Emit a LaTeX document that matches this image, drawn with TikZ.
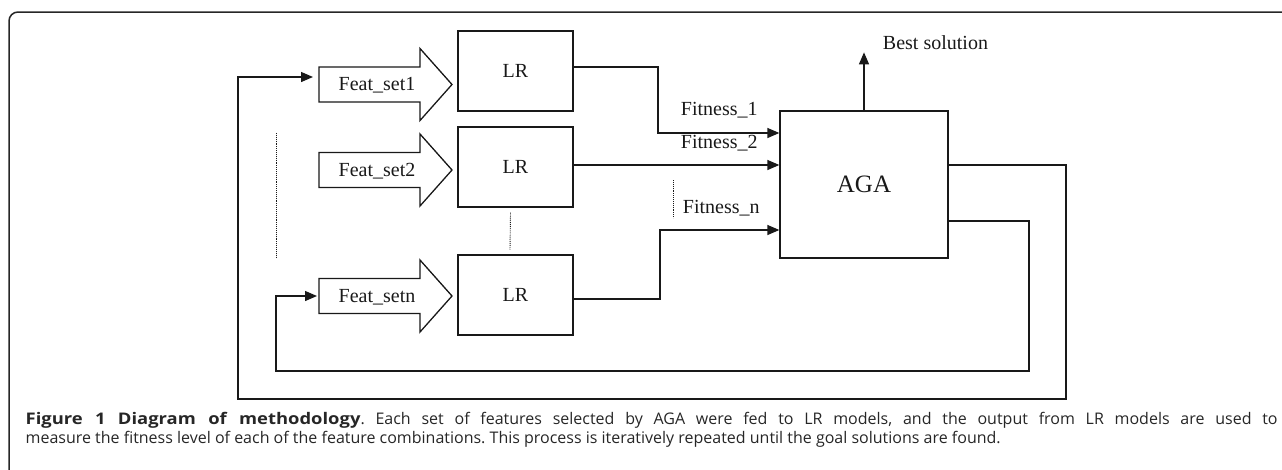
\documentclass[tikz,border=0pt]{standalone}
\usepackage{fontspec}
\setmainfont{Liberation Serif}
\newfontfamily\capfont{Open Sans}[BoldFeatures={FakeStretch=1.15}]
\usetikzlibrary{arrows.meta,positioning}

\tikzset{
	box/.style={draw, line width=1.3pt, minimum width=115pt, minimum height=80pt, font=\fontsize{20}{23}\selectfont},
	lbl/.style={font=\fontsize{20}{23}\selectfont},
	frame/.style={line width=1.5pt, black!85, rounded corners=9pt}
}

\begin{document}
\begin{tikzpicture}[x=1pt, y=-1pt, line width=1.3pt, color=black!90, >={Triangle[length=12pt,width=10pt]}]
	\useasboundingbox (0,0) rectangle (1282,469);

	% Frame
	\draw[frame] (9,480) -- (9,12) -- (1295,12);

	% Feature set arrows
	\foreach \n/\c/\t in {1/84.5/Feat\_set1, 2/170/Feat\_set2, n/296/Feat\_setn}{
		\draw (319,\c-17.5) -- (420,\c-17.5) -- (420,\c-36) -- (452,\c) -- (420,\c+36) -- (420,\c+17.5) -- (319,\c+17.5) -- cycle;
		\node[lbl] (fs\n) at (377,\c+1) {\t};
	}
	\coordinate (in1) at (313,77);
	\coordinate (inn) at (317,296);

	% LR models
	\node[box] (lr1) at (515.5,71) {LR};
	\node[box] (lr2) at (515.5,167) {LR};
	\node[box] (lr3) at (515.5,295) {LR};

	% AGA
	\node[box, minimum width=168pt, minimum height=147pt, font=\fontsize{25}{28}\selectfont] (aga) at (864,184.5) {AGA};

	% Fitness connectors
	\draw[->] ([yshift=4pt]lr1.east) -- (658,67) -- (658,133) -- ([yshift=51.5pt]aga.west);
	\draw[->] ([yshift=2pt]lr2.east) -- ([yshift=19.5pt]aga.west);
	\draw[->] ([yshift=-4pt]lr3.east) -- (660,299) -- (660,230) -- ([yshift=-45.5pt]aga.west);

	\node[lbl, anchor=west] (fit1) at (677,110) {Fitness\_1};
	\node[lbl, anchor=west] (fit2) at (677,143) {Fitness\_2};
	\node[lbl, anchor=west] (fitn) at (679,208) {Fitness\_n};

	% Best solution
	\node[lbl, anchor=west] (best) at (879,43) {Best solution};
	\draw[->] (aga.north) -- ++(0,-58);

	% Feedback loops
	\draw[->] ([yshift=19.5pt]aga.east) -- (1066,165) -- (1066,399) -- (238,399) -- (238,77) -- (in1);
	\draw[->] ([yshift=-36.5pt]aga.east) -- (1029,221) -- (1029,371) -- (276,371) -- (276,296) -- (inn);

	% Dots
	\draw[densely dotted, line width=0.9pt] (276,133) -- (276,257);
	\draw[densely dotted, line width=0.9pt] (lr2.south) ++(-5,5) -- (510,250);
	\draw[densely dotted, line width=0.9pt] (673,180) -- (673,218);

	% Caption
	\node[anchor=north west, inner sep=0, text width=1252pt, align=justify, text=black!85, font=\capfont\fontsize{16}{19}\selectfont\frenchspacing] (cap) at (25,412)
		{\textbf{Figure 1 Diagram of methodology}. Each set of features selected by AGA were fed to LR models, and the output from LR models are used to\linebreak measure the fitness level of each of the feature combinations. This process is iteratively repeated until the goal solutions are found.};
\end{tikzpicture}
\end{document}
